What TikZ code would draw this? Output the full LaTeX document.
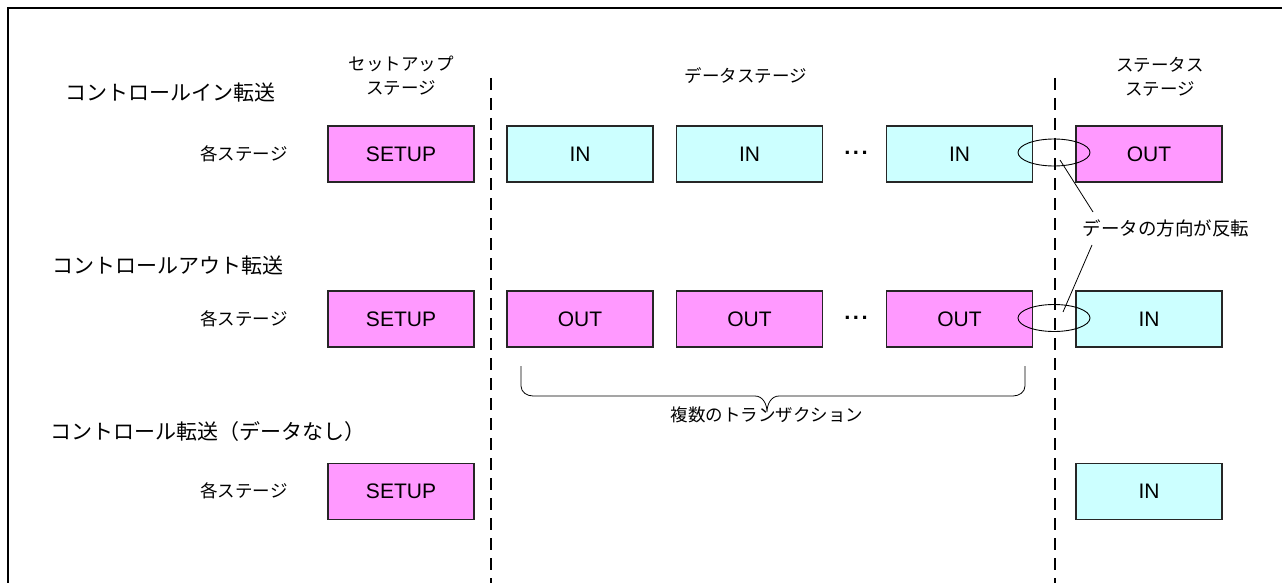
\documentclass[tikz,border=0pt]{standalone}
\usepackage{fontspec}
\setmainfont{Liberation Sans}
\newfontfamily\jp{Noto Sans CJK JP}
\usetikzlibrary{shapes.geometric}
\definecolor{pinkf}{HTML}{FF99FF}
\definecolor{cyanf}{HTML}{CCFFFF}
\newcommand{\mydots}{\textbf{.\kern2.5pt.\kern2.5pt.}}
\begin{document}
\begin{tikzpicture}[x=1pt,y=-1pt,
  stagebox/.style={draw=black!85, line width=1.3pt, minimum width=146pt, minimum height=56pt, inner sep=0pt, font=\fontsize{21}{24}\selectfont},
  pinkbox/.style={stagebox, fill=pinkf},
  cyanbox/.style={stagebox, fill=cyanf},
  title/.style={anchor=west, font=\jp\fontsize{21}{24}\selectfont, inner sep=0pt},
  lbl/.style={font=\jp\fontsize{17.5}{24}\selectfont, inner sep=0pt, align=center},
  sep/.style={line width=1.3pt, dash pattern=on 12pt off 8pt},
  ring/.style={ellipse, draw, line width=0.9pt, minimum width=72pt, minimum height=27pt, inner sep=0pt},
  dotsnode/.style={font=\fontsize{22}{24}\selectfont, inner sep=0pt},
  thin/.style={line width=0.8pt}]
\useasboundingbox (0,0) rectangle (1282,583);
% frame
\draw[line width=2pt] (8,583) -- (8,8) -- (1282,8);
% headers
\node[lbl] (hset) at (401,76) {セットアップ\\ステージ};
\node[lbl] (hdata) at (746,76) {データステージ};
\node[lbl] (hstat) at (1160,77) {ステータス\\ステージ};
% separators
\coordinate (s1t) at (491,78); \coordinate (s1b) at (491,583);
\coordinate (s2t) at (1055,78); \coordinate (s2b) at (1055,583);
\draw[sep] (s1t) -- (s1b);
\draw[sep] (s2t) -- (s2b);
% titles
\node[title] (t1) at (65,93) {コントロールイン転送};
\node[title] (t2) at (52,266) {コントロールアウト転送};
\node[title] (t3) at (50,432) {コントロール転送（データなし）};
% row labels
\node[lbl] (r1) at (244,154) {各ステージ};
\node[lbl] (r2) at (244,319) {各ステージ};
\node[lbl] (r3) at (244,491) {各ステージ};
% row 1
\node[pinkbox] (a0) at (401,154) {SETUP};
\node[cyanbox] (a1) at (580,154) {IN};
\node[cyanbox] (a2) at (749.5,154) {IN};
\node[cyanbox] (a3) at (959.5,154) {IN};
\node[pinkbox] (a4) at (1149,154) {OUT};
\node[dotsnode] (ad) at (856,153) {\mydots};
% row 2
\node[pinkbox] (b0) at (401,319) {SETUP};
\node[pinkbox] (b1) at (580,319) {OUT};
\node[pinkbox] (b2) at (749.5,319) {OUT};
\node[pinkbox] (b3) at (959.5,319) {OUT};
\node[cyanbox] (b4) at (1149,319) {IN};
\node[dotsnode] (bd) at (856,318) {\mydots};
% row 3
\node[pinkbox] (c0) at (401,491.5) {SETUP};
\node[cyanbox] (c4) at (1149,491.5) {IN};
% rings
\node[ring] (e1) at (1054,152.5) {};
\node[ring] (e2) at (1054,318) {};
\node[font=\jp\fontsize{18.5}{22}\selectfont, inner sep=0pt] (rev) at (1166,228) {データの方向が反転};
\coordinate (p1) at (1060,160);
\coordinate (q1) at (1093,212);
\coordinate (q2) at (1092,245);
\coordinate (p2) at (1063,312);
\draw[thin] (p1) -- (q1);
\draw[thin] (q2) -- (p2);
% brace
\coordinate (bl) at (521,366);
\coordinate (br) at (1025,366);
\coordinate (bm) at (767,412);
\draw[thin] (bl) -- (521,386) to[out=-90,in=180] (533,396) -- (755,396) to[out=0,in=90] (bm)
            to[out=90,in=180] (779,396) -- (1013,396) to[out=0,in=-90] (1025,386) -- (br);
\node[font=\jp\fontsize{17.5}{20}\selectfont, inner sep=0pt, anchor=north] (btx) at (767,407) {複数のトランザクション};
\end{tikzpicture}
\end{document}
